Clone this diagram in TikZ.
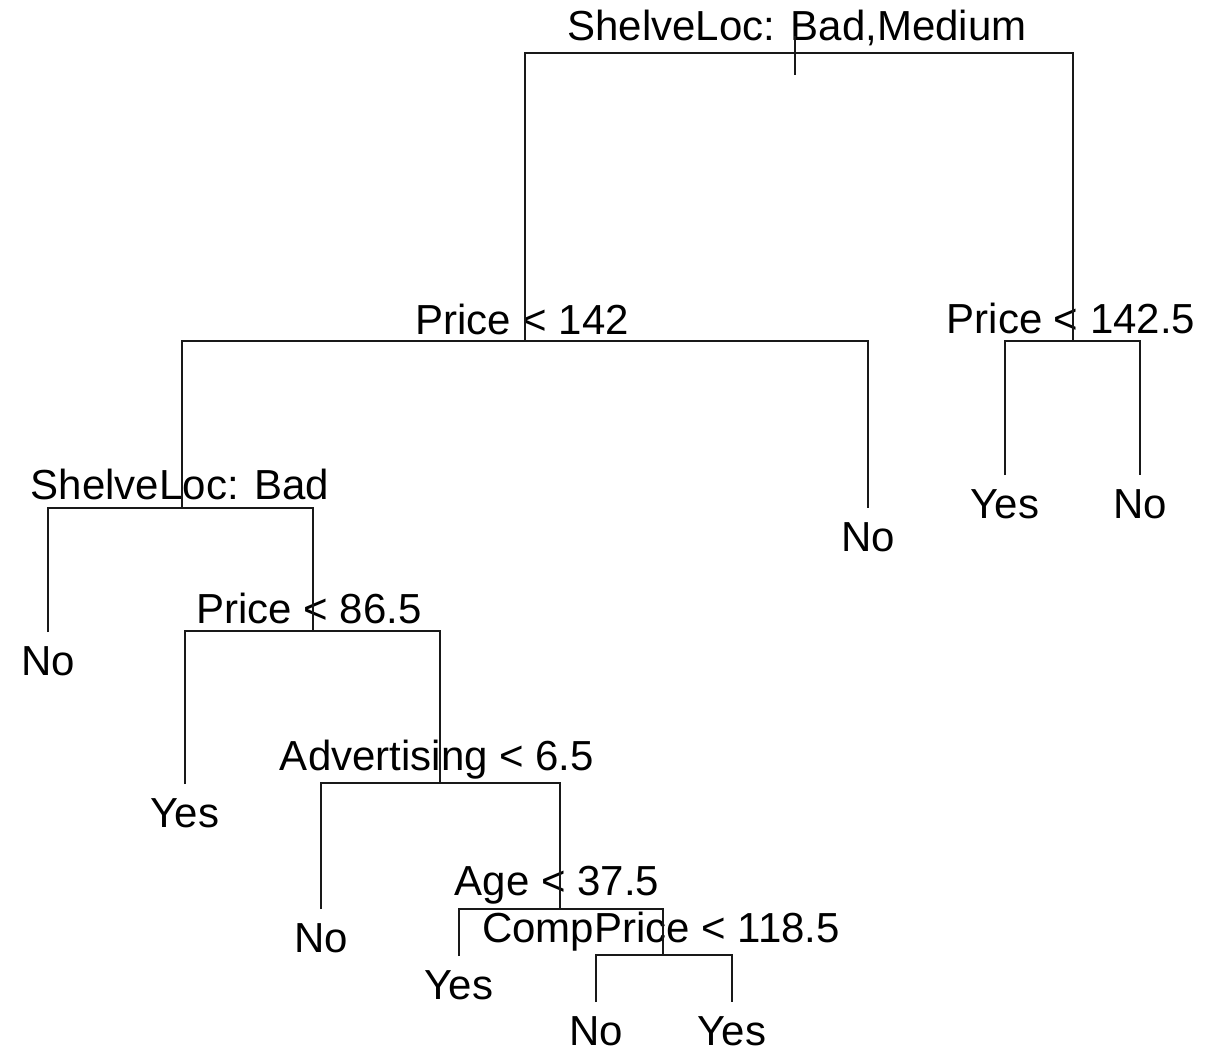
\documentclass[tikz,border=0pt]{standalone}
\usepackage{fontspec}
\setmainfont{Liberation Sans}
\usetikzlibrary{calc}
\begin{document}
\begin{tikzpicture}[x=1pt,y=-1pt,
  branch/.style={line width=2.6pt, line join=miter, draw=black!90},
  splitlabel/.style={anchor=base, inner sep=0pt, font=\fontsize{42}{42}\selectfont},
  leaflabel/.style={anchor=base, inner sep=0pt, font=\fontsize{42}{42}\selectfont}]
\useasboundingbox (0,0) rectangle (1218,1052);

% split points (stem x, bar y)
\coordinate (n0) at (795,53);
\coordinate (n1) at (525,341);
\coordinate (n2) at (1073,341);
\coordinate (n3) at (182,508);
\coordinate (n4) at (313,631);
\coordinate (n5) at (440,783);
\coordinate (n6) at (560,909);
\coordinate (n7) at (663,955);

% root stem
\coordinate (rtop) at (795,36);
\coordinate (rbot) at (795,75);

% leaf ends
\coordinate (l1) at (868,508);
\coordinate (l2) at (1005,475);
\coordinate (l3) at (1140,475);
\coordinate (l4) at (48,632);
\coordinate (l5) at (185,784);
\coordinate (l6) at (321,909);
\coordinate (l7) at (459,956);
\coordinate (l8) at (596,1002);
\coordinate (l9) at (732,1002);

% split labels
\node[splitlabel] (t0) at (797,40) {ShelveLoc: Bad,Medium};
\node[splitlabel] (t1) at (522,334) {Price < 142};
\node[splitlabel] (t2) at (1071,333) {Price < 142.5};
\node[splitlabel] (t3) at (180,499) {ShelveLoc: Bad};
\node[splitlabel] (t4) at (309,623) {Price < 86.5};
\node[splitlabel] (t5) at (437,770) {Advertising < 6.5};
\node[splitlabel] (t6) at (557,895) {Age < 37.5};
\node[splitlabel] (t7) at (661,942) {CompPrice < 118.5};

% leaf labels
\node[leaflabel] (y1) at ($(l1)+(0,43)$) {No};
\node[leaflabel] (y2) at ($(l2)+(0,43)$) {Yes};
\node[leaflabel] (y3) at ($(l3)+(0,43)$) {No};
\node[leaflabel] (y4) at ($(l4)+(0,43)$) {No};
\node[leaflabel] (y5) at ($(l5)+(0,43)$) {Yes};
\node[leaflabel] (y6) at ($(l6)+(0,43)$) {No};
\node[leaflabel] (y7) at ($(l7)+(0,43)$) {Yes};
\node[leaflabel] (y8) at ($(l8)+(0,43)$) {No};
\node[leaflabel] (y9) at ($(l9)+(0,43)$) {Yes};

% branches
\draw[branch] (rtop) -- (rbot);
\draw[branch] (n1) -- (n1 |- n0) -- (n2 |- n0) -- (n2);
\draw[branch] (n3) -- (n3 |- n1) -- (l1 |- n1) -- (l1);
\draw[branch] (l2) -- (l2 |- n2) -- (l3 |- n2) -- (l3);
\draw[branch] (l4) -- (l4 |- n3) -- (n4 |- n3) -- (n4);
\draw[branch] (l5) -- (l5 |- n4) -- (n5 |- n4) -- (n5);
\draw[branch] (l6) -- (l6 |- n5) -- (n6 |- n5) -- (n6);
\draw[branch] (l7) -- (l7 |- n6) -- (n7 |- n6) -- (n7);
\draw[branch] (l8) -- (l8 |- n7) -- (l9 |- n7) -- (l9);
\end{tikzpicture}
\end{document}
